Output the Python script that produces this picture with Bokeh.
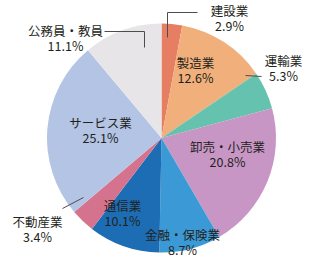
import math
from bokeh.plotting import figure
from bokeh.models import Range1d, ColumnDataSource
from bokeh.core.properties import value
from bokeh.embed import file_html
from bokeh.resources import INLINE

# data
categories = ["建設業", "製造業", "運輸業", "卸売・小売業", "金融・保険業",
              "通信業", "不動産業", "サービス業", "公務員・教員"]
shares = [2.9, 12.6, 5.3, 20.8, 8.7, 10.1, 3.4, 25.1, 11.1]
colors = ["#e57e63", "#f1b07b", "#65c2ae", "#c896c4", "#3b9ad6",
          "#1c6db4", "#d5738f", "#b4c4e4", "#e7e5e7"]

# layout (pixels from top-left)
W, H = 320, 267
cx, cy, R = 161, 137.5, 114.5
label_pos = [(229, 10), (195, 62), (283, 60), (227, 146), (182, 234),
             (122, 205), (37, 221), (100, 122), (65, 30)]
leaders = [
    [(167, 37), (167, 12), (197, 12)],
    None,
    [(245, 75), (261, 76)],
    None, None, None,
    [(62, 208), (83, 197)],
    None,
    [(104, 31), (144, 31), (144, 47)],
]

p = figure(width=W, height=H, output_backend="svg", toolbar_location=None,
           x_range=Range1d(0, W), y_range=Range1d(0, H), min_border=0)
p.axis.visible = False
p.grid.visible = False
p.outline_line_color = None
p.background_fill_color = "white"
p.border_fill_color = "white"

total = sum(shares)
starts, ends = [], []
cum = 0.0
for s in shares:
    starts.append(math.pi / 2 - 2 * math.pi * cum / total)
    cum += s
    ends.append(math.pi / 2 - 2 * math.pi * cum / total)

src = ColumnDataSource(dict(start=starts, end=ends, color=colors))
p.wedge(x=cx, y=H - cy, radius=R, start_angle="start", end_angle="end",
        direction="clock", fill_color="color", line_color=None, source=src)

xs, ys = [], []
for ld in leaders:
    if ld:
        xs.append([q[0] for q in ld])
        ys.append([H - q[1] for q in ld])
p.multi_line(xs=xs, ys=ys, line_color="#4d4d4d", line_width=1)

tx, ty, tt = [], [], []
for (lx, ly), c, s in zip(label_pos, categories, shares):
    tx += [lx, lx]
    ty += [H - ly, H - ly - 15]
    tt += [c, f"{s:.1f}%"]
p.text(x=tx, y=ty, text=tt, text_align="center", text_baseline="middle",
       text_font=value("Noto Sans CJK JP"), text_font_size="12.5px",
       text_color="#231f20")

open("out.html", "w").write(file_html(p, INLINE))
